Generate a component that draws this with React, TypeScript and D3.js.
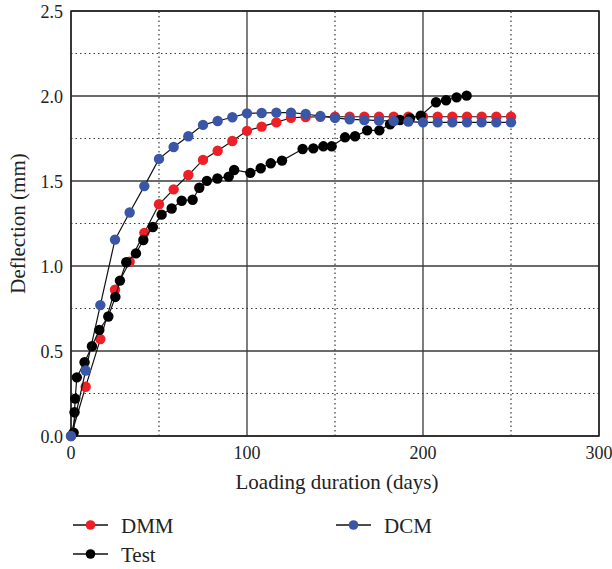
import React from "react";
import * as d3 from "d3";

const modelDays = [0, 8.33, 16.67, 25, 33.33, 41.67, 50, 58.33, 66.67, 75, 83.33, 91.67, 100, 108.33, 116.67, 125, 133.33, 141.67, 150, 158.33, 166.67, 175, 183.33, 191.67, 200, 208.33, 216.67, 225, 233.33, 241.67, 250];
const dmmValues = [0, 0.29, 0.57, 0.86, 1.025, 1.195, 1.363, 1.451, 1.535, 1.624, 1.678, 1.735, 1.795, 1.82, 1.845, 1.872, 1.876, 1.878, 1.878, 1.878, 1.878, 1.878, 1.878, 1.878, 1.878, 1.878, 1.878, 1.878, 1.878, 1.878, 1.878];
const dcmValues = [0, 0.385, 0.77, 1.155, 1.315, 1.47, 1.63, 1.70, 1.763, 1.83, 1.853, 1.875, 1.898, 1.90, 1.902, 1.902, 1.894, 1.882, 1.871, 1.863, 1.859, 1.855, 1.853, 1.849, 1.845, 1.845, 1.845, 1.845, 1.845, 1.845, 1.845];
const testDays = [1.5, 2.0, 2.4, 3.3, 7.7, 11.9, 16.1, 21.2, 25.2, 27.8, 31.4, 36.9, 41.1, 46.5, 51.5, 57.2, 62.9, 69.1, 72.9, 77.2, 83.2, 89.6, 92.7, 101.9, 107.8, 113.5, 119.9, 131.6, 137.7, 143.4, 148.1, 155.7, 161.4, 168.3, 175.2, 181.3, 186.9, 192.6, 198.7, 207.4, 213.1, 219.1, 224.8];
const testValues = [0.02, 0.14, 0.22, 0.345, 0.434, 0.528, 0.624, 0.703, 0.818, 0.914, 1.022, 1.074, 1.153, 1.229, 1.302, 1.338, 1.384, 1.39, 1.46, 1.501, 1.515, 1.526, 1.565, 1.548, 1.575, 1.604, 1.62, 1.688, 1.692, 1.704, 1.704, 1.757, 1.763, 1.798, 1.798, 1.834, 1.859, 1.869, 1.884, 1.963, 1.975, 1.992, 2.002];

const xMajor = [0, 100, 200, 300];
const xMinor = [50, 150, 250];
const yMajor = [0, 0.5, 1.0, 1.5, 2.0, 2.5];
const yMinor = [0.25, 0.75, 1.25, 1.75, 2.25];

const xTitle = "Loading duration (days)";
const yTitle = "Deflection (mm)";

const RED = "#ee1f26";
const BLUE = "#3a56a6";
const BLACK = "#000000";

type Pt = [number, number];

const FONT = "'Liberation Serif', 'DejaVu Serif', serif";

export default function App() {
  const W = 612, H = 569;
  const x = d3.scaleLinear().domain([0, 300]).range([71, 599]);
  const y = d3.scaleLinear().domain([0, 2.5]).range([436, 11]);
  const line = d3.line<Pt>().x(d => x(d[0])).y(d => y(d[1]));

  const series = [
    { name: "DMM", color: RED, pts: modelDays.map((d, i) => [d, dmmValues[i]] as Pt) },
    { name: "Test", color: BLACK, pts: testDays.map((d, i) => [d, testValues[i]] as Pt) },
    { name: "DCM", color: BLUE, pts: modelDays.map((d, i) => [d, dcmValues[i]] as Pt) },
  ];

  const gridColor = "#3a3a3a";

  const legend = [
    { name: "DMM", color: RED, lx: 73, ly: 525 },
    { name: "DCM", color: BLUE, lx: 336, ly: 525 },
    { name: "Test", color: BLACK, lx: 73, ly: 554 },
  ];

  return (
    <div style={{ position: "absolute", left: 0, top: 0, fontFamily: FONT }}>
      <svg width={W} height={H} style={{ display: "block", background: "#fff", fontFamily: FONT }}>
        {yMinor.map(v => (
          <line key={"ym" + v} x1={x(0)} x2={x(300)} y1={y(v)} y2={y(v)} stroke={gridColor} strokeWidth={1.2} strokeDasharray="1.5,3" />
        ))}
        {xMinor.map(v => (
          <line key={"xm" + v} x1={x(v)} x2={x(v)} y1={y(0)} y2={y(2.5)} stroke={gridColor} strokeWidth={1.2} strokeDasharray="1.5,3" />
        ))}
        {yMajor.map(v => (
          <line key={"yM" + v} x1={x(0)} x2={x(300)} y1={y(v)} y2={y(v)} stroke={gridColor} strokeWidth={1.3} />
        ))}
        {xMajor.map(v => (
          <line key={"xM" + v} x1={x(v)} x2={x(v)} y1={y(0)} y2={y(2.5)} stroke={gridColor} strokeWidth={1.3} />
        ))}
        <rect x={x(0)} y={y(2.5)} width={x(300) - x(0)} height={y(0) - y(2.5)} fill="none" stroke="#222" strokeWidth={1.5} />

        {yMajor.map(v => (
          <text key={"yl" + v} x={63} y={y(v) + 7} textAnchor="end" fontFamily={FONT} fontSize={18} fill="#222">{v.toFixed(1)}</text>
        ))}
        {xMajor.map(v => (
          <text key={"xl" + v} x={x(v)} y={459} textAnchor="middle" fontFamily={FONT} fontSize={18} fill="#222">{v}</text>
        ))}

        <text x={337} y={489} textAnchor="middle" fontFamily={FONT} fontSize={21} fill="#222">{xTitle}</text>
        <text transform={`translate(25, ${y(1.25)}) rotate(-90)`} textAnchor="middle" fontFamily={FONT} fontSize={21} fill="#222">{yTitle}</text>

        {series.map(s => (
          <g key={s.name}>
            <path d={line(s.pts) || ""} fill="none" stroke="#111" strokeWidth={1.2} />
            {s.pts.map((p, i) => (
              <circle key={i} cx={x(p[0])} cy={y(p[1])} r={5.2} fill={s.color} />
            ))}
          </g>
        ))}

        {legend.map(l => (
          <g key={l.name}>
            <line x1={l.lx} x2={l.lx + 35} y1={l.ly} y2={l.ly} stroke="#111" strokeWidth={1.3} />
            <circle cx={l.lx + 17.5} cy={l.ly} r={4.8} fill={l.color} />
            <text x={l.lx + 48} y={l.ly + 7.5} fontFamily={FONT} fontSize={21} fill="#222">{l.name}</text>
          </g>
        ))}
      </svg>
    </div>
  );
}
